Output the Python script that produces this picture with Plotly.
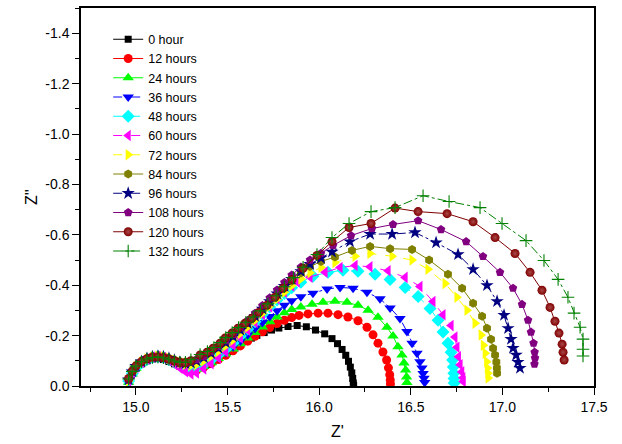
import plotly.graph_objects as go

# Shared high-frequency start of every spectrum (Z' values)
HF_ARC_RE = [14.96, 14.98, 15.00, 15.03, 15.06, 15.09, 15.12, 15.15, 15.18, 15.21, 15.24, 15.27, 15.30]

LABELS = ["0 hour", "12 hours", "24 hours", "36 hours", "48 hours", "60 hours",
          "72 hours", "84 hours", "96 hours", "108 hours", "120 hours", "132 hours"]

# ---- 0 hour ----
ZRE_0 = HF_ARC_RE + [15.33, 15.36, 15.39, 15.42, 15.45, 15.48, 15.51, 15.54, 15.57, 15.60, 15.63, 15.66,
                     15.70, 15.74, 15.78, 15.83, 15.88, 15.93, 15.98, 16.03, 16.07, 16.10, 16.125, 16.145,
                     16.16, 16.17, 16.178, 16.183, 16.186, 16.188]
ZIM_0 = [-0.02, -0.05, -0.07, -0.088, -0.1, -0.107, -0.109, -0.105, -0.097, -0.088, -0.078, -0.07, -0.065,
         -0.066, -0.074, -0.085, -0.097, -0.11, -0.123, -0.137, -0.151, -0.165, -0.178, -0.19, -0.201,
         -0.212, -0.222, -0.23, -0.236, -0.24, -0.235, -0.222, -0.207, -0.188, -0.168, -0.145, -0.122,
         -0.098, -0.075, -0.052, -0.03, -0.012, -0.002]

# ---- 12 hours ----
ZRE_12 = HF_ARC_RE + [15.33, 15.37, 15.41, 15.45, 15.49, 15.53, 15.57, 15.61, 15.65, 15.69, 15.73, 15.77,
                      15.81, 15.85, 15.89, 15.939, 15.994, 16.048, 16.103, 16.157, 16.212, 16.261, 16.294,
                      16.321, 16.348, 16.368, 16.378, 16.385, 16.388, 16.389]
ZIM_12 = [-0.02, -0.052, -0.074, -0.093, -0.107, -0.116, -0.12, -0.117, -0.108, -0.095, -0.08, -0.067, -0.058,
          -0.062, -0.074, -0.089, -0.105, -0.122, -0.14, -0.159, -0.178, -0.197, -0.215, -0.232, -0.248,
          -0.261, -0.272, -0.28, -0.286, -0.289, -0.289, -0.283, -0.274, -0.259, -0.233, -0.203, -0.17,
          -0.135, -0.103, -0.072, -0.045, -0.024, -0.008]

# ---- 24 hours ----
ZRE_24 = HF_ARC_RE + [15.33, 15.37, 15.41, 15.45, 15.49, 15.53, 15.57, 15.61, 15.65, 15.69, 15.73, 15.77,
                      15.81, 15.85, 15.90, 15.961, 16.021, 16.086, 16.152, 16.212, 16.267, 16.321, 16.37,
                      16.403, 16.43, 16.452, 16.463, 16.472, 16.477, 16.479]
ZIM_24 = [-0.015, -0.048, -0.07, -0.09, -0.104, -0.112, -0.115, -0.112, -0.104, -0.094, -0.083, -0.073, -0.066,
          -0.066, -0.077, -0.092, -0.109, -0.127, -0.147, -0.168, -0.19, -0.212, -0.234, -0.255, -0.274,
          -0.291, -0.304, -0.313, -0.324, -0.332, -0.336, -0.332, -0.32, -0.301, -0.273, -0.233, -0.198,
          -0.156, -0.123, -0.091, -0.063, -0.036, -0.014]

# ---- 36 hours ----
ZRE_36 = HF_ARC_RE + [15.33, 15.37, 15.41, 15.45, 15.49, 15.53, 15.57, 15.61, 15.65, 15.69, 15.73, 15.77,
                      15.81, 15.85, 15.90, 15.966, 16.043, 16.114, 16.185, 16.261, 16.332, 16.387, 16.441,
                      16.479, 16.507, 16.534, 16.55, 16.561, 16.567, 16.572, 16.576]
ZIM_36 = [-0.022, -0.055, -0.076, -0.094, -0.106, -0.113, -0.115, -0.11, -0.1, -0.089, -0.078, -0.07, -0.065,
          -0.068, -0.08, -0.096, -0.114, -0.134, -0.156, -0.179, -0.203, -0.228, -0.252, -0.276, -0.299,
          -0.32, -0.338, -0.354, -0.368, -0.385, -0.391, -0.388, -0.372, -0.346, -0.31, -0.268, -0.216,
          -0.17, -0.13, -0.096, -0.071, -0.05, -0.031, -0.014]

# ---- 48 hours ----
ZRE_48 = HF_ARC_RE + [15.33, 15.37, 15.41, 15.45, 15.49, 15.53, 15.57, 15.61, 15.65, 15.69, 15.73, 15.77,
                      15.81, 15.85, 15.90, 15.966, 16.048, 16.13, 16.212, 16.305, 16.387, 16.469, 16.54,
                      16.605, 16.649, 16.676, 16.703, 16.72, 16.728, 16.732, 16.735, 16.736, 16.737]
ZIM_48 = [-0.02, -0.05, -0.072, -0.091, -0.105, -0.113, -0.116, -0.113, -0.105, -0.094, -0.082, -0.071, -0.064,
          -0.07, -0.084, -0.102, -0.123, -0.146, -0.171, -0.198, -0.226, -0.255, -0.284, -0.313, -0.341,
          -0.367, -0.39, -0.412, -0.436, -0.451, -0.459, -0.455, -0.443, -0.423, -0.391, -0.355, -0.308,
          -0.261, -0.214, -0.17, -0.134, -0.103, -0.075, -0.051, -0.03, -0.012]

# ---- 60 hours ----
ZRE_60 = HF_ARC_RE + [15.33, 15.37, 15.41, 15.45, 15.49, 15.53, 15.57, 15.61, 15.65, 15.69, 15.73, 15.77,
                      15.81, 15.85, 15.88, 15.95, 16.032, 16.114, 16.196, 16.277, 16.376, 16.469, 16.55,
                      16.621, 16.676, 16.72, 16.741, 16.752, 16.76, 16.769, 16.778, 16.784, 16.786]
ZIM_60 = [-0.02, -0.05, -0.073, -0.093, -0.107, -0.115, -0.117, -0.112, -0.101, -0.087, -0.071, -0.057, -0.048,
          -0.052, -0.068, -0.088, -0.111, -0.136, -0.163, -0.191, -0.221, -0.252, -0.283, -0.314, -0.345,
          -0.372, -0.397, -0.413, -0.432, -0.451, -0.47, -0.478, -0.473, -0.457, -0.431, -0.395, -0.335,
          -0.283, -0.24, -0.194, -0.154, -0.116, -0.084, -0.056, -0.033, -0.018]

# ---- 72 hours ----
ZRE_72 = HF_ARC_RE + [15.33, 15.37, 15.41, 15.45, 15.49, 15.53, 15.57, 15.61, 15.65, 15.69, 15.73, 15.77,
                      15.81, 15.85, 15.90, 15.95, 16.01, 16.086, 16.196, 16.277, 16.398, 16.507, 16.594,
                      16.687, 16.752, 16.807, 16.851, 16.884, 16.896, 16.906, 16.914, 16.918, 16.921, 16.922]
ZIM_72 = [-0.02, -0.052, -0.075, -0.094, -0.107, -0.115, -0.118, -0.116, -0.11, -0.102, -0.093, -0.086, -0.082,
          -0.085, -0.1, -0.118, -0.138, -0.16, -0.183, -0.208, -0.234, -0.261, -0.289, -0.317, -0.345,
          -0.372, -0.398, -0.425, -0.449, -0.47, -0.49, -0.515, -0.526, -0.515, -0.5, -0.463, -0.407,
          -0.352, -0.301, -0.249, -0.202, -0.162, -0.13, -0.096, -0.071, -0.051, -0.032]

# ---- 84 hours ----
ZRE_84 = HF_ARC_RE + [15.33, 15.37, 15.41, 15.45, 15.49, 15.53, 15.57, 15.61, 15.65, 15.69, 15.73, 15.77,
                      15.81, 15.85, 15.90, 15.95, 16.01, 16.086, 16.179, 16.278, 16.387, 16.507, 16.6,
                      16.703, 16.78, 16.84, 16.889, 16.916, 16.938, 16.949, 16.96, 16.967, 16.97, 16.971]
ZIM_84 = [-0.025, -0.056, -0.078, -0.096, -0.108, -0.115, -0.117, -0.115, -0.11, -0.104, -0.098, -0.096, -0.1,
          -0.105, -0.118, -0.135, -0.155, -0.177, -0.2, -0.225, -0.251, -0.278, -0.305, -0.333, -0.361,
          -0.389, -0.416, -0.448, -0.474, -0.494, -0.512, -0.538, -0.554, -0.545, -0.542, -0.5, -0.443,
          -0.388, -0.328, -0.277, -0.229, -0.186, -0.15, -0.123, -0.095, -0.071, -0.051]

# ---- 96 hours ----
ZRE_96 = HF_ARC_RE + [15.33, 15.37, 15.41, 15.45, 15.49, 15.53, 15.57, 15.61, 15.65, 15.69, 15.73, 15.77,
                      15.81, 15.85, 15.90, 15.95, 16.01, 16.07, 16.168, 16.278, 16.398, 16.523, 16.638,
                      16.758, 16.84, 16.916, 16.971, 17.009, 17.031, 17.047, 17.058, 17.075, 17.085, 17.096]
ZIM_96 = [-0.025, -0.057, -0.079, -0.097, -0.109, -0.116, -0.118, -0.116, -0.11, -0.102, -0.094, -0.09, -0.092,
          -0.1, -0.113, -0.13, -0.15, -0.172, -0.196, -0.222, -0.249, -0.277, -0.306, -0.336, -0.366,
          -0.396, -0.424, -0.455, -0.483, -0.508, -0.532, -0.573, -0.603, -0.603, -0.609, -0.569, -0.522,
          -0.463, -0.399, -0.336, -0.281, -0.229, -0.186, -0.15, -0.123, -0.095, -0.071]

# ---- 108 hours ----
ZRE_108 = HF_ARC_RE + [15.33, 15.37, 15.41, 15.45, 15.49, 15.53, 15.57, 15.61, 15.65, 15.69, 15.73, 15.77,
                       15.81, 15.85, 15.90, 15.95, 16.01, 16.076, 16.174, 16.288, 16.403, 16.54, 16.665,
                       16.802, 16.894, 16.987, 17.058, 17.107, 17.14, 17.156, 17.17, 17.176, 17.178, 17.175]
ZIM_108 = [-0.023, -0.055, -0.077, -0.095, -0.107, -0.114, -0.116, -0.114, -0.108, -0.1, -0.093, -0.09, -0.095,
           -0.105, -0.118, -0.136, -0.157, -0.18, -0.205, -0.232, -0.26, -0.289, -0.319, -0.35, -0.381,
           -0.411, -0.44, -0.472, -0.5, -0.527, -0.558, -0.597, -0.625, -0.641, -0.656, -0.621, -0.573,
           -0.514, -0.451, -0.388, -0.324, -0.261, -0.214, -0.17, -0.134, -0.111, -0.087]

# ---- 120 hours ----
ZRE_120 = HF_ARC_RE + [15.35, 15.388, 15.421, 15.459, 15.486, 15.524, 15.557, 15.595, 15.633, 15.672, 15.715,
                       15.759, 15.803, 15.852, 15.912, 15.988, 16.07, 16.163, 16.283, 16.414, 16.54, 16.698,
                       16.84, 16.96, 17.069, 17.151, 17.216, 17.26, 17.287, 17.309, 17.326, 17.331, 17.337]
ZIM_120 = [-0.03, -0.06, -0.08, -0.097, -0.108, -0.114, -0.115, -0.112, -0.106, -0.099, -0.093, -0.092, -0.1,
           -0.123, -0.134, -0.15, -0.17, -0.19, -0.21, -0.229, -0.249, -0.269, -0.293, -0.32, -0.352,
           -0.388, -0.423, -0.467, -0.518, -0.573, -0.629, -0.645, -0.706, -0.692, -0.684, -0.652, -0.589,
           -0.526, -0.451, -0.38, -0.312, -0.257, -0.21, -0.166, -0.134, -0.103]

# ---- 132 hours ----
ZRE_132 = HF_ARC_RE + [15.35, 15.39, 15.425, 15.46, 15.49, 15.525, 15.56, 15.60, 15.64, 15.68, 15.72, 15.765,
                       15.81, 15.86, 15.912, 15.988, 16.07, 16.163, 16.283, 16.414, 16.567, 16.709, 16.878,
                       16.998, 17.129, 17.227, 17.304, 17.358, 17.391, 17.424, 17.44, 17.44, 17.44]
ZIM_132 = [-0.028, -0.058, -0.079, -0.096, -0.107, -0.113, -0.115, -0.112, -0.106, -0.099, -0.094, -0.094, -0.104,
           -0.125, -0.137, -0.153, -0.172, -0.192, -0.212, -0.232, -0.253, -0.274, -0.298, -0.326, -0.358,
           -0.394, -0.43, -0.471, -0.522, -0.589, -0.645, -0.692, -0.708, -0.755, -0.732, -0.708, -0.645,
           -0.577, -0.498, -0.423, -0.352, -0.289, -0.233, -0.186, -0.146, -0.119]

X_TICKS = [15.0, 15.5, 16.0, 16.5, 17.0, 17.5]
Y_TICKS = [0.0, -0.2, -0.4, -0.6, -0.8, -1.0, -1.2, -1.4]
Y_TICK_TEXT = ["0.0", "-0.2", "-0.4", "-0.6", "-0.8", "-1.0", "-1.2", "-1.4"]

SERIES_RE = [ZRE_0, ZRE_12, ZRE_24, ZRE_36, ZRE_48, ZRE_60, ZRE_72, ZRE_84, ZRE_96, ZRE_108, ZRE_120, ZRE_132]
SERIES_IM = [ZIM_0, ZIM_12, ZIM_24, ZIM_36, ZIM_48, ZIM_60, ZIM_72, ZIM_84, ZIM_96, ZIM_108, ZIM_120, ZIM_132]

# marker/line style for each spectrum
STYLES = [
    dict(color="#000000", symbol="square", size=7, dash="solid"),
    dict(color="#FF0000", symbol="circle", size=9, dash="solid"),
    dict(color="#00FF00", symbol="triangle-up", size=10, dash="solid"),
    dict(color="#0000FF", symbol="triangle-down", size=10, dash="dashdot"),
    dict(color="#00FFFF", symbol="diamond", size=10, dash="dash"),
    dict(color="#FF00FF", symbol="triangle-left", size=10, dash="dash"),
    dict(color="#FFFF00", symbol="triangle-right", size=10, dash="dash"),
    dict(color="#808000", symbol="hexagon", size=9, dash="solid"),
    dict(color="#000080", symbol="star", size=10, dash="dashdot"),
    dict(color="#800080", symbol="pentagon", size=9, dash="solid"),
    dict(color="#800000", symbol="circle", size=9, dash="solid"),
    dict(color="#008000", symbol="cross-thin", size=9, dash="dashdot"),
]

fig = go.Figure()
for name, xs, ys, st in zip(LABELS, SERIES_RE, SERIES_IM, STYLES):
    marker = dict(color=st["color"], symbol=st["symbol"], size=st["size"], line=dict(width=0))
    if st["symbol"] == "cross-thin":
        marker["line"] = dict(width=1.1, color=st["color"])
    if name == "120 hours":
        # shaded sphere look
        marker["gradient"] = dict(type="radial", color="#a84848")
    fig.add_trace(go.Scatter(
        x=xs, y=ys, name=name, mode="lines+markers",
        line=dict(color=st["color"], width=1, dash=st["dash"]),
        marker=marker,
    ))

font_family = "Arial, Liberation Sans, sans-serif"

fig.update_layout(
    width=622, height=444,
    margin=dict(l=81, r=28, t=6, b=58),
    paper_bgcolor="white", plot_bgcolor="white",
    font=dict(family=font_family, size=14, color="black"),
    showlegend=True,
    legend=dict(x=0.053, y=0.956, xanchor="left", yanchor="top",
                bgcolor="rgba(0,0,0,0)", font=dict(size=12.5, family=font_family),
                tracegroupgap=0, itemwidth=30),
    xaxis=dict(range=[14.7, 17.5], tickvals=X_TICKS, tickformat=".1f",
               ticks="outside", ticklen=7, tickwidth=1, tickcolor="black",
               minor=dict(dtick=0.25, tick0=15.0, ticks="outside", ticklen=4, tickcolor="black"),
               showline=True, linecolor="black", linewidth=1.5, mirror=True,
               showgrid=False, zeroline=False,
               title=dict(text="Z'", font=dict(size=16), standoff=12)),
    yaxis=dict(range=[0, -1.5], tickvals=Y_TICKS, ticktext=Y_TICK_TEXT,
               ticks="outside", ticklen=7, tickwidth=1, tickcolor="black",
               minor=dict(dtick=0.1, tick0=0, ticks="outside", ticklen=4, tickcolor="black"),
               showline=True, linecolor="black", linewidth=1.5, mirror=True,
               showgrid=False, zeroline=False,
               title=dict(text="Z''", font=dict(size=16), standoff=4)),
)

fig.write_html("out.html")
